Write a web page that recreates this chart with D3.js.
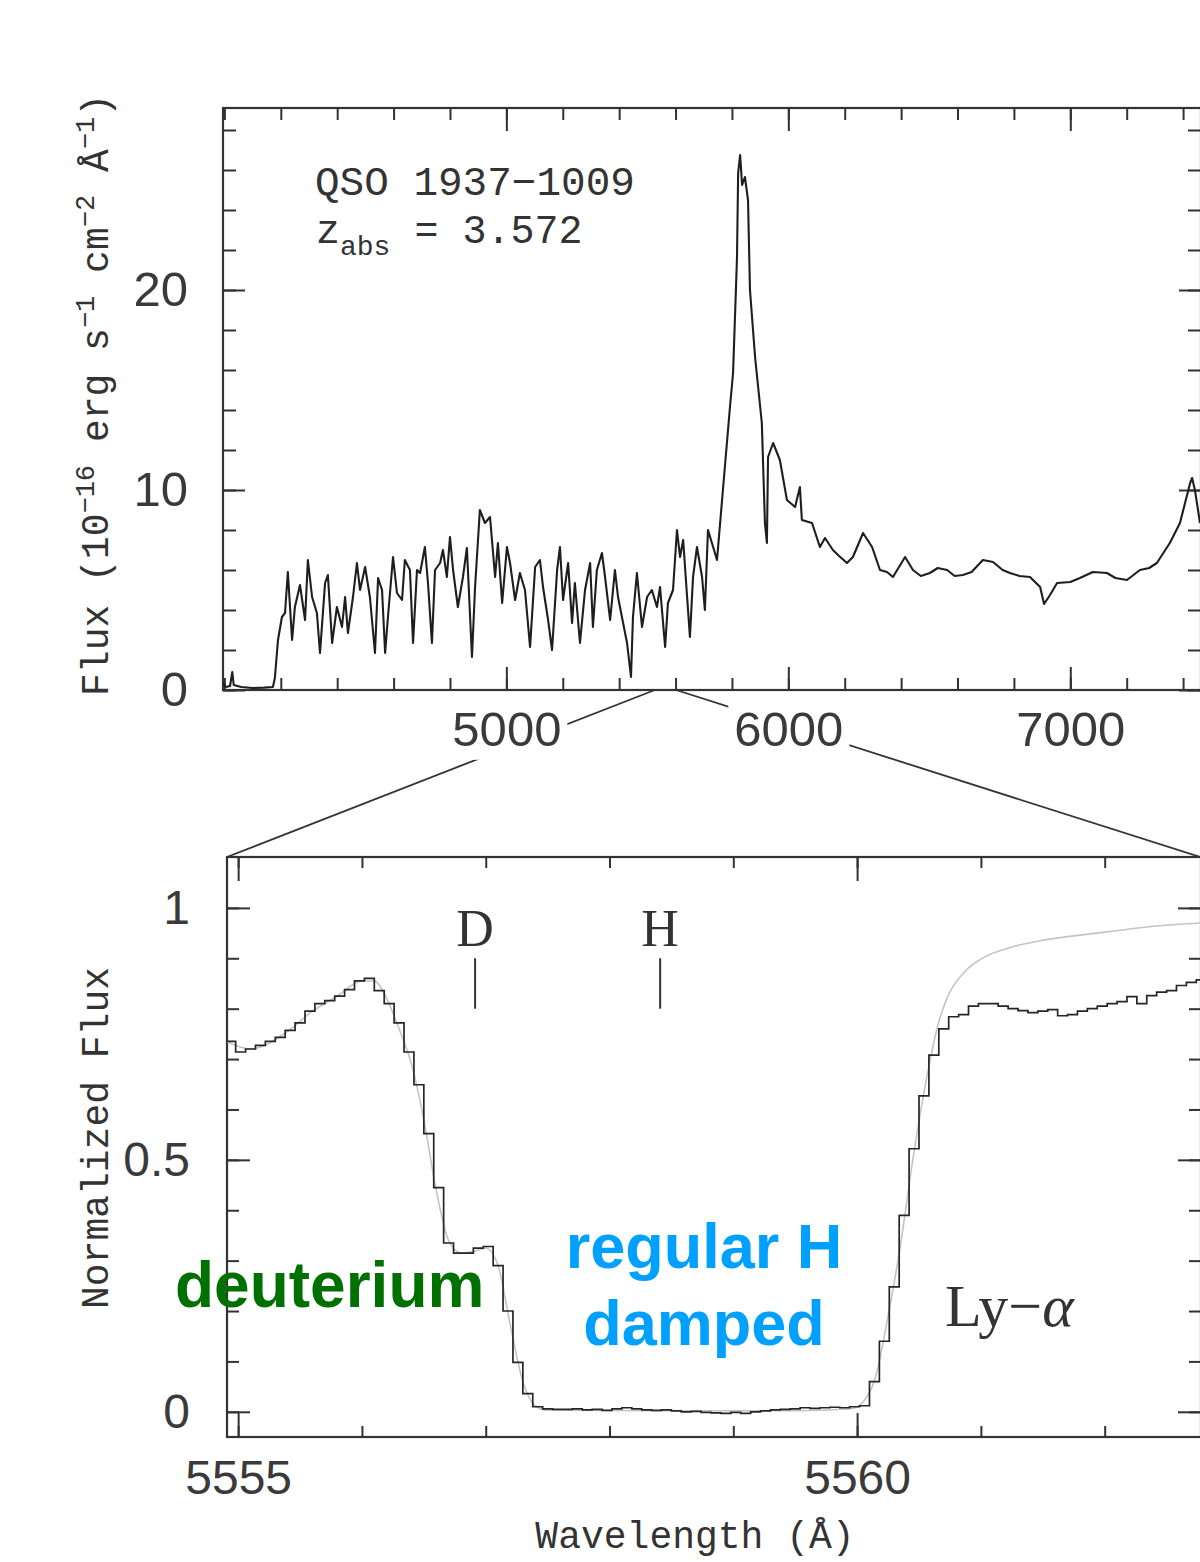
<!DOCTYPE html>
<html>
<head>
<meta charset="utf-8">
<script src="https://cdn.jsdelivr.net/npm/d3@7"></script>
<style>
  body { margin: 0; background: #fff; }
  svg { font-family: "Liberation Mono", "DejaVu Sans Mono", monospace; }
  svg text { fill: #333; }
</style>
</head>
<body>
<svg id="chart" width="1200" height="1562"></svg>
<script>
// ---- data ----
// top panel: QSO 1937-1009 spectrum (Angstrom, 1e-16 erg/s/cm2/A)
const topWave = [3995,4005,4020,4028,4033,4060,4100,4140,4172,4179,4190,4204,4215,4225,4240,4250,4268,4286,4296,4311,
  4328,4339,4357,4367,4382,4399,4417,4428,4438,4456,4470,4481,4499,4516,4534,4545,4559,4570,4580,4598,
  4612,4630,4640,4658,4669,4683,4694,4711,4722,4736,4747,4765,4775,4789,4800,4811,4828,4846,4860,4878,
  4889,4906,4924,4942,4960,4970,4985,5002,5013,5031,5048,5066,5084,5102,5119,5130,5148,5162,5180,5190,
  5201,5219,5233,5243,5261,5279,5297,5307,5321,5339,5350,5368,5385,5396,5414,5428,5442,5449,5463,5481,
  5499,5516,5534,5545,5563,5573,5591,5605,5616,5627,5641,5651,5662,5676,5694,5704,5715,5729,5747,5765,
  5793,5804,5818,5822,5829,5836,5846,5857,5864,5882,5906,5917,5924,5928,5946,5970,5995,6024,6041,6048,
  6084,6112,6130,6158,6180,6208,6229,6265,6297,6325,6350,6371,6414,6442,6470,6502,6530,6563,6590,6619,
  6650,6690,6726,6760,6786,6820,6857,6893,6907,6928,6953,7000,7034,7080,7130,7160,7201,7247,7280,7307,
  7353,7389,7425,7432,7442,7460];
const topFlux = [0.35,0.15,0.2,0.9,0.25,0.15,0.1,0.12,0.15,0.6,2.5,3.65,3.85,5.9,2.5,4.15,5.25,3.5,6.5,4.65,
  3.85,1.85,5.35,5.75,2.35,4.15,3.15,4.65,2.85,4.65,6.35,5.0,6.15,4.65,1.85,5.6,5.0,1.85,3.65,6.65,
  4.85,4.5,6.5,6.0,2.35,6.0,5.85,7.15,5.35,2.35,6.0,6.35,7.0,5.65,7.65,6.0,4.15,5.65,7.1,1.65,
  5.15,9.0,8.35,8.65,5.65,7.35,4.35,7.15,6.35,4.5,5.85,5.0,2.15,6.15,6.5,5.15,3.5,2.0,6.0,7.15,
  4.5,6.35,3.35,5.35,2.35,5.0,6.35,3.15,6.0,6.85,5.65,3.5,6.0,4.65,3.35,2.35,0.65,3.65,5.85,3.15,
  4.65,5.0,4.15,5.15,2.15,4.35,5.0,8.0,6.65,7.5,4.65,2.65,5.65,7.15,5.65,4.0,8.0,7.35,6.5,9.5,
  14.15,15.85,21.65,25.85,26.75,25.25,25.65,24.5,20.0,16.65,13.35,8.35,7.35,11.65,12.35,11.5,9.5,9.15,10.15,8.5,
  8.35,7.15,7.6,7.0,6.7,6.35,6.65,7.85,7.15,6.0,5.9,5.65,6.65,6.0,5.7,5.85,6.1,6.0,5.7,5.75,
  5.9,6.5,6.4,6.0,5.85,5.7,5.65,5.15,4.3,4.75,5.35,5.4,5.6,5.9,5.85,5.6,5.5,6.0,6.1,6.35,
  7.35,8.35,10.35,10.6,10.0,8.35];
const topXMinor = d3.range(4000, 7460, 200);
const topXMajor = [5000, 6000, 7000];
const topYMinor = d3.range(0, 29, 2);
const topYMajor = [0, 10, 20];

// bottom panel: normalised flux, pixel bins of 0.08 A starting at 5554.90 A
const binStart = 5554.90, binWidth = 0.08;
const binFlux = [0.735,0.714,0.72,0.727,0.735,0.743,0.757,0.772,0.795,0.81,
  0.816,0.825,0.838,0.855,0.86,0.836,0.81,0.772,0.714,0.649,
  0.552,0.445,0.335,0.315,0.315,0.325,0.328,0.29,0.2,0.098,
  0.036,0.01,0.006,0.005,0.005,0.006,0.004,0.005,0.003,0.006,
  0.008,0.006,0.004,0.003,0.004,0.002,0.0,0.001,-0.001,-0.002,
  -0.003,-0.001,-0.003,0.0,0.002,0.004,0.005,0.006,0.008,0.007,
  0.008,0.009,0.008,0.01,0.012,0.06,0.14,0.248,0.39,0.522,
  0.627,0.708,0.76,0.784,0.788,0.805,0.81,0.81,0.805,0.8,
  0.796,0.792,0.795,0.798,0.786,0.788,0.795,0.8,0.805,0.81,
  0.814,0.824,0.81,0.826,0.833,0.836,0.846,0.852,0.857];
// fitted profile (grey)
const modelWave = [5554.90,5555.1,5555.4,5555.6,5555.8,5556.0,5556.1,5556.2,5556.3,5556.4,5556.5,5556.6,5556.7,5556.8,
  5556.9,5557.0,5557.1,5557.2,5557.3,5557.4,5557.5,5558.5,5559.5,5559.95,5560.05,5560.15,5560.25,5560.35,5560.45,
  5560.53,5560.6,5560.65,5560.73,5560.86,5560.99,5561.26,5561.53,5561.8,5562.07,5562.34,5562.77];
const modelFlux = [0.735,0.72,0.755,0.795,0.825,0.855,0.855,0.82,0.76,0.69,0.58,0.44,0.34,0.315,
  0.318,0.325,0.29,0.17,0.06,0.012,0.003,0.002,0.002,0.006,0.02,0.07,0.19,0.33,0.5,
  0.62,0.71,0.765,0.823,0.871,0.897,0.923,0.937,0.946,0.954,0.962,0.97];
const botXMinor = d3.range(5555, 5563, 1);
const botXMajor = [5555, 5560];
const botYMinor = d3.range(0, 11).map(d => d / 10);
const botYMajor = [0, 0.5, 1];
const markLabels = ["D", "H"];
const markWave = [5556.914, 5558.409];

// ---- drawing ----
const svg = d3.select("#chart");
const ink = "#333";
const tickFont = "'Liberation Sans', Arial, sans-serif";
const serif = "'Liberation Serif', 'DejaVu Serif', serif";

const xTop = d3.scaleLinear().domain([3995, 7460]).range([223, 1200]);
const yTop = d3.scaleLinear().domain([0, 29.1]).range([690, 108]);
const xBot = d3.scaleLinear().domain([5554.91, 5562.77]).range([227, 1200]);
const yBot = d3.scaleLinear().domain([-0.05, 1.101]).range([1437, 857]);

function panelFrame(x, y, id) {
  const [x0, x1] = x.range(), [y1, y0] = y.range();
  svg.append("clipPath").attr("id", id).append("rect")
    .attr("x", x0).attr("y", y0).attr("width", x1 - x0 + 2).attr("height", y1 - y0);
  svg.append("rect")
    .attr("x", x0).attr("y", y0).attr("width", x1 - x0 + 1).attr("height", y1 - y0)
    .attr("fill", "none").attr("stroke", ink).attr("stroke-width", 2.2);
}

function addAxis(axis, tx, ty) {
  const g = svg.append("g").attr("transform", `translate(${tx},${ty})`).call(axis)
    .attr("font-family", null).attr("font-size", null);
  g.select(".domain").remove();
  g.selectAll(".tick line").attr("stroke", ink).attr("stroke-width", 2);
  return g;
}

function panelTicks(x, y, o) {
  const [x0, x1] = x.range(), [y1, y0] = y.range();
  const right = x1 + 1;
  // minor ticks, all four sides, pointing inwards
  addAxis(d3.axisBottom(x).tickValues(o.xMinor).tickSize(-o.xMinorLen).tickFormat(""), 0, y1);
  addAxis(d3.axisTop(x).tickValues(o.xMinor).tickSize(-o.xMinorLen).tickFormat(""), 0, y0);
  addAxis(d3.axisLeft(y).tickValues(o.yMinor).tickSize(-o.yMinorLen).tickFormat(""), x0, 0);
  addAxis(d3.axisRight(y).tickValues(o.yMinor).tickSize(-o.yMinorLen).tickFormat(""), right, 0);
  // major ticks with labels
  const gx = addAxis(d3.axisBottom(x).tickValues(o.xMajor).tickSize(-o.xMajorLen)
    .tickPadding(o.xPad).tickFormat(d3.format("d")), 0, y1);
  addAxis(d3.axisTop(x).tickValues(o.xMajor).tickSize(-o.xMajorLen).tickFormat(""), 0, y0);
  const gy = addAxis(d3.axisLeft(y).tickValues(o.yMajor).tickSize(-o.yMajorLen)
    .tickPadding(o.yPad).tickFormat(d => String(d)), x0, 0);
  addAxis(d3.axisRight(y).tickValues(o.yMajor).tickSize(-o.yMajorLen).tickFormat(""), right, 0);
  [gx, gy].forEach(g => g.selectAll("text")
    .style("font-family", tickFont).style("font-size", o.fontSize + "px").style("fill", "#3a3a3a"));
  return gx;
}

// ---- top panel ----
panelFrame(xTop, yTop, "clipTop");

// zoom connectors between the panels (drawn before labels so labels mask them)
const zoomLo = xBot.domain()[0], zoomHi = xBot.domain()[1];
svg.append("g").attr("stroke", ink).attr("stroke-width", 1.8)
  .selectAll("line")
  .data([[xTop(zoomLo) - 8, xBot.range()[0]], [xTop(zoomHi) + 11, xBot.range()[1]]])
  .join("line")
  .attr("x1", d => d[0]).attr("y1", yTop.range()[0])
  .attr("x2", d => d[1]).attr("y2", yBot.range()[1]);

const gxTop = panelTicks(xTop, yTop, {
  xMinor: topXMinor, xMajor: topXMajor, yMinor: topYMinor, yMajor: topYMajor,
  xMinorLen: 12, xMajorLen: 23, yMinorLen: 13, yMajorLen: 22,
  xPad: 21, yPad: 35, fontSize: 49
});
// white boxes behind the x labels so the connectors break around them
gxTop.selectAll(".tick").each(function () {
  const t = d3.select(this).select("text");
  const b = t.node().getBBox();
  d3.select(this).insert("rect", "text")
    .attr("x", b.x - 6).attr("y", b.y - 2).attr("width", b.width + 12).attr("height", b.height + 6)
    .attr("fill", "#fff");
});

svg.append("path")
  .datum(d3.zip(topWave, topFlux))
  .attr("clip-path", "url(#clipTop)")
  .attr("fill", "none").attr("stroke", "#1e1e1e").attr("stroke-width", 2.1)
  .attr("stroke-linejoin", "round")
  .attr("d", d3.line().x(d => xTop(d[0])).y(d => yTop(d[1])));

svg.append("text").attr("x", 315).attr("y", 195).style("font-size", "41px")
  .text("QSO 1937\u22121009");
const zt = svg.append("text").attr("x", 316).attr("y", 243).style("font-size", "40px");
zt.append("tspan").text("z");
zt.append("tspan").attr("dy", 12).style("font-size", "28px").text("abs");
zt.append("tspan").attr("dy", -12).text(" = 3.572");

const yt1 = svg.append("text").attr("text-anchor", "middle")
  .attr("transform", "translate(108,395) rotate(-90)").style("font-size", "38px");
[["Flux (10", 0], ["\u221216", 1], [" erg s", 0], ["\u22121", 1], [" cm", 0], ["\u22122", 1], [" \u00c5", 0], ["\u22121", 1], [")", 0]]
  .forEach(([s, sup], i, arr) => {
    const prev = i > 0 ? arr[i - 1][1] : 0;
    yt1.append("tspan").attr("dy", (prev - sup) * 14)
      .style("font-size", sup ? "27px" : "38px").text(s);
  });

// ---- bottom panel ----
panelFrame(xBot, yBot, "clipBot");
panelTicks(xBot, yBot, {
  xMinor: botXMinor, xMajor: botXMajor, yMinor: botYMinor, yMajor: botYMajor,
  xMinorLen: 11, xMajorLen: 24, yMinorLen: 12, yMajorLen: 23,
  xPad: 23, yPad: 37, fontSize: 48
});

svg.append("path")
  .datum(d3.zip(modelWave, modelFlux))
  .attr("clip-path", "url(#clipBot)")
  .attr("fill", "none").attr("stroke", "#c4c4c4").attr("stroke-width", 1.6)
  .attr("d", d3.line().curve(d3.curveMonotoneX).x(d => xBot(d[0])).y(d => yBot(d[1])));

const binPts = binFlux.map((f, i) => [binStart + i * binWidth, f]);
binPts.push([binStart + binFlux.length * binWidth, binFlux[binFlux.length - 1]]);
svg.append("path")
  .datum(binPts)
  .attr("clip-path", "url(#clipBot)")
  .attr("fill", "none").attr("stroke", "#262626").attr("stroke-width", 1.7)
  .attr("d", d3.line().curve(d3.curveStepAfter).x(d => xBot(d[0])).y(d => yBot(d[1])));

// D and H markers
const marks = svg.append("g").selectAll("g").data(d3.zip(markLabels, markWave)).join("g");
marks.append("line")
  .attr("x1", d => xBot(d[1])).attr("x2", d => xBot(d[1]))
  .attr("y1", yBot(0.9)).attr("y2", yBot(0.8))
  .attr("stroke", ink).attr("stroke-width", 2);
marks.append("text")
  .attr("x", d => xBot(d[1])).attr("y", yBot(0.924))
  .attr("text-anchor", "middle")
  .style("font-family", serif).style("font-size", "52px")
  .text(d => d[0]);

svg.append("text").attr("x", xBot(5560.71)).attr("y", yBot(0.17))
  .style("font-family", serif).style("font-size", "60px")
  .text("Ly\u2212")
  .append("tspan").style("font-style", "italic").text("\u03b1");

svg.append("text").attr("text-anchor", "middle")
  .attr("transform", "translate(108,1138) rotate(-90)").style("font-size", "38px")
  .text("Normalized Flux");
svg.append("text").attr("text-anchor", "middle").attr("x", 695).attr("y", 1548)
  .style("font-size", "38px").text("Wavelength (\u00c5)");

// coloured annotations
const annFont = "'Liberation Sans', Arial, sans-serif";
svg.append("text").attr("x", 175).attr("y", 1307)
  .style("font-family", annFont).style("font-weight", "bold").style("font-size", "64px")
  .style("fill", "#007000").text("deuterium");
svg.append("text").attr("x", 704).attr("y", 1268).attr("text-anchor", "middle")
  .style("font-family", annFont).style("font-weight", "bold").style("font-size", "63px")
  .style("fill", "#00a0ff").text("regular H");
svg.append("text").attr("x", 704).attr("y", 1345).attr("text-anchor", "middle")
  .style("font-family", annFont).style("font-weight", "bold").style("font-size", "63px")
  .style("fill", "#00a0ff").text("damped");
</script>
</body>
</html>
